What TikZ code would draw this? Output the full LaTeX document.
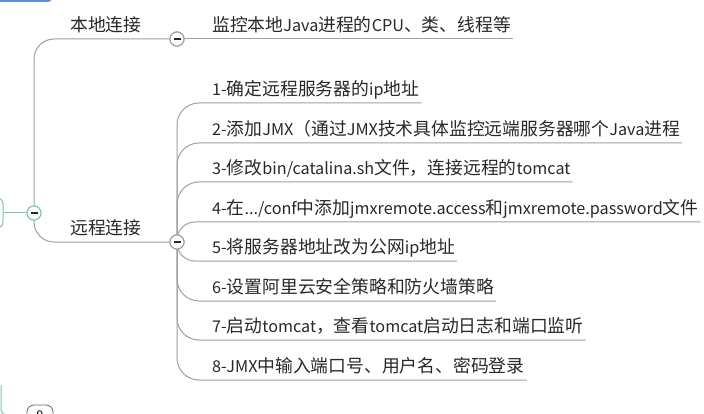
\documentclass[tikz,border=0pt]{standalone}
\usepackage{fontspec}
\setmainfont{Noto Sans CJK SC}
\usepackage{xcolor}
\usepackage{tikz}
\usetikzlibrary{
    shapes,
    positioning
}
\definecolor{linegray}{RGB}{160,160,160}
\definecolor{rootteal}{RGB}{125,195,175}
\definecolor{textgray}{RGB}{40,40,40}
\definecolor{barblue}{RGB}{80,150,230}
\newcommand{\hanfont}{\fontsize{17.8}{20}\selectfont}
\XeTeXinterchartokenstate=1
\newXeTeXintercharclass\hanclass
\newcount\hancode
\hancode="3000
\loop \XeTeXcharclass\hancode=\hanclass \advance\hancode 1 \ifnum\hancode<"3040 \repeat
\hancode="4E00
\loop \XeTeXcharclass\hancode=\hanclass \advance\hancode 1 \ifnum\hancode<"A000 \repeat
\hancode="FF00
\loop \XeTeXcharclass\hancode=\hanclass \advance\hancode 1 \ifnum\hancode<"FFF0 \repeat
\XeTeXinterchartoks 0 \hanclass={\begingroup\hanfont}
\XeTeXinterchartoks 4095 \hanclass={\begingroup\hanfont}
\XeTeXinterchartoks \hanclass 0={\endgroup}
\XeTeXinterchartoks \hanclass 4095={\endgroup}
\tikzset{topic/.style={
    anchor=south west,
    inner xsep=2pt,
    inner ysep=4pt,
    text height=13pt,
    text depth=3pt,
    text=textgray,
    font=\fontsize{16.2}{20}\selectfont,
}}
\tikzset{fold/.style={
    circle,
    draw=linegray,
    fill=white,
    line width=1pt,
    minimum size=14pt,
    inner sep=0pt,
    path picture={\draw[line width=1.2pt, textgray]
        (path picture bounding box.center) +(-3.5pt,0) -- +(3.5pt,0);},
}}
\tikzset{branch/.style={
    draw=linegray,
    line width=1pt,
    rounded corners=22pt,
}}
\tikzset{rootline/.style={
    draw=rootteal,
    line width=1pt,
}}

\begin{document}
\begin{tikzpicture}[x=1pt, y=-1pt]
    \useasboundingbox (0,0) rectangle (704,414);
    \clip (0,0) rectangle (704,414);

    \node[fill=barblue, rounded corners=4pt, minimum width=64pt, minimum height=20pt] (prevtopic) at (20,-8) {};
    \node[draw=rootteal, line width=1pt, fill=white, rounded corners=6pt, minimum width=46pt, minimum height=30pt] (root) at (-20,213) {};
    \node[fold, draw=rootteal] (rootc) at (34,213) {};
    \draw[rootline] (root.east) -- (rootc);

    \coordinate (lower) at (1,385);
    \node[draw=gray!80!black, line width=0.8pt, fill=white, rounded corners=7pt, minimum width=26pt, minimum height=20pt, font=\fontsize{12}{12}\selectfont] (badge) at (40,415) {9};
    \draw[rootline, rounded corners=6pt] (lower) |- (badge.west);

    \node[fold] (localc) at (177,39) {};
    \node[fold] (remotec) at (177,242) {};
    \draw[branch, rounded corners=20pt] (rootc) |- (localc);
    \draw[branch, rounded corners=20pt] (rootc) |- (remotec);
    \node[fold] at (localc) {};
    \node[fold] at (remotec) {};
    \node[fold, draw=rootteal] at (rootc) {};
    \node[topic] (local) at (68,39) {本地连接};
    \node[topic] (remote) at (68,242) {远程连接};

    \node[topic] (t0) at (210,39) {监控本地Java进程的CPU、类、线程等};
    \draw[branch] (localc) -- (t0.south east);

    \node[topic] (s1) at (210,103) {1-确定远程服务器的ip地址};
    \node[topic] (s2) at (210,143) {2-添加JMX（通过JMX技术具体监控远端服务器哪个Java进程};
    \node[topic] (s3) at (210,182) {3-修改bin/catalina.sh文件，连接远程的tomcat};
    \node[topic] (s4) at (210,222) {4-在.../conf中添加jmxremote.access和jmxremote.password文件};
    \node[topic] (s5) at (210,261) {5-将服务器地址改为公网ip地址};
    \node[topic] (s6) at (210,301) {6-设置阿里云安全策略和防火墙策略};
    \node[topic] (s7) at (210,340) {7-启动tomcat，查看tomcat启动日志和端口监听};
    \node[topic] (s8) at (210,380) {8-JMX中输入端口号、用户名、密码登录};
    \draw[branch] (remotec) |- (s1.south east);
    \draw[branch] (remotec) |- (s2.south east);
    \draw[branch] (remotec) |- (s3.south east);
    \draw[branch, rounded corners=18pt] (remotec) |- (s4.south east);
    \draw[branch, rounded corners=18pt] (remotec) |- (s5.south east);
    \draw[branch] (remotec) |- (s6.south east);
    \draw[branch] (remotec) |- (s7.south east);
    \draw[branch] (remotec) |- (s8.south east);
    \node[fold] at (remotec) {};
    \node[fold] at (localc) {};
\end{tikzpicture}
\end{document}
